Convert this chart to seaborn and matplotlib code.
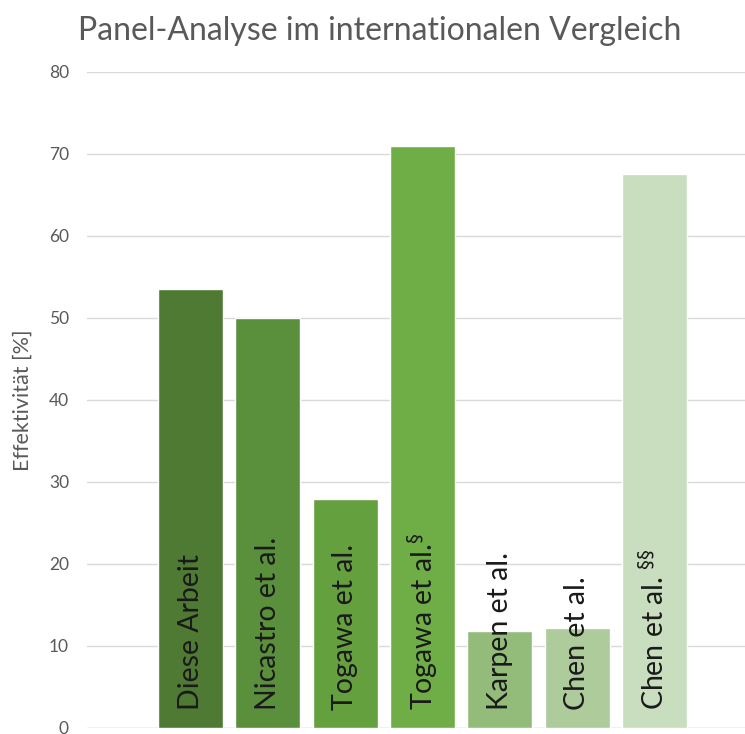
import matplotlib
matplotlib.use("Agg")
import matplotlib.pyplot as plt
import seaborn as sns
import pandas as pd

categories = ["Diese Arbeit", "Nicastro et al.", "Togawa et al.", "Togawa et al.§",
              "Karpen et al.", "Chen et al.", "Chen et al. §§"]
labels = ["Diese Arbeit", "Nicastro et al.", "Togawa et al.", "Togawa et al.$^{§}$",
          "Karpen et al.", "Chen et al.", "Chen et al. $^{§§}$"]
values = [53.5, 50.0, 27.9, 71.0, 11.8, 12.2, 67.5]
colors = ["#4F7A34", "#5A8F3B", "#65A03F", "#6FAE46", "#93BC7A", "#AECB9C", "#C9DDBF"]
yticks = [0, 10, 20, 30, 40, 50, 60, 70, 80]

sns.set_theme(style="white")
plt.rcParams['font.family'] = ['Lato', 'DejaVu Sans']

df = pd.DataFrame({"cat": categories, "val": values})

fig = plt.figure(figsize=(7.45, 7.34), dpi=100)
W, H = 745, 734
ax = fig.add_axes([87 / W, 1 - 728 / H, (745 - 87) / W, (728 - 72) / H])

sns.barplot(data=df, x="cat", y="val", hue="cat", palette=colors, legend=False,
            width=0.84, ax=ax, saturation=1, zorder=3)

ax.set_ylim(0, 80)
ax.set_xlim(-1.34, 7.17)
ax.set_yticks(yticks)
ax.set_yticklabels([str(t) for t in yticks], color="#595959", fontsize=12.5)
ax.yaxis.grid(True, color="#D9D9D9", linewidth=1, zorder=0)
ax.set_axisbelow(True)
ax.tick_params(axis="y", length=0, pad=13)
ax.set_xticks([])
ax.set_xlabel("")
ax.set_ylabel("Effektivität [%]", color="#595959", fontsize=15.5, labelpad=0)
ax.yaxis.set_label_coords(-54 / (745 - 87), 0.5)
for s in ax.spines.values():
    s.set_visible(False)
ax.axhline(0, color="#D9D9D9", linewidth=1, zorder=2)

for i, lab in enumerate(labels):
    ax.text(i, 2.2, lab, rotation=90, ha="center", va="bottom",
            fontsize=20.5, color="#1A1A1A", zorder=5)

fig.text(380 / W, 1 - 31 / H, "Panel-Analyse im internationalen Vergleich",
         ha="center", va="center", fontsize=23, color="#595959")

fig.savefig("out.png", dpi=100)
